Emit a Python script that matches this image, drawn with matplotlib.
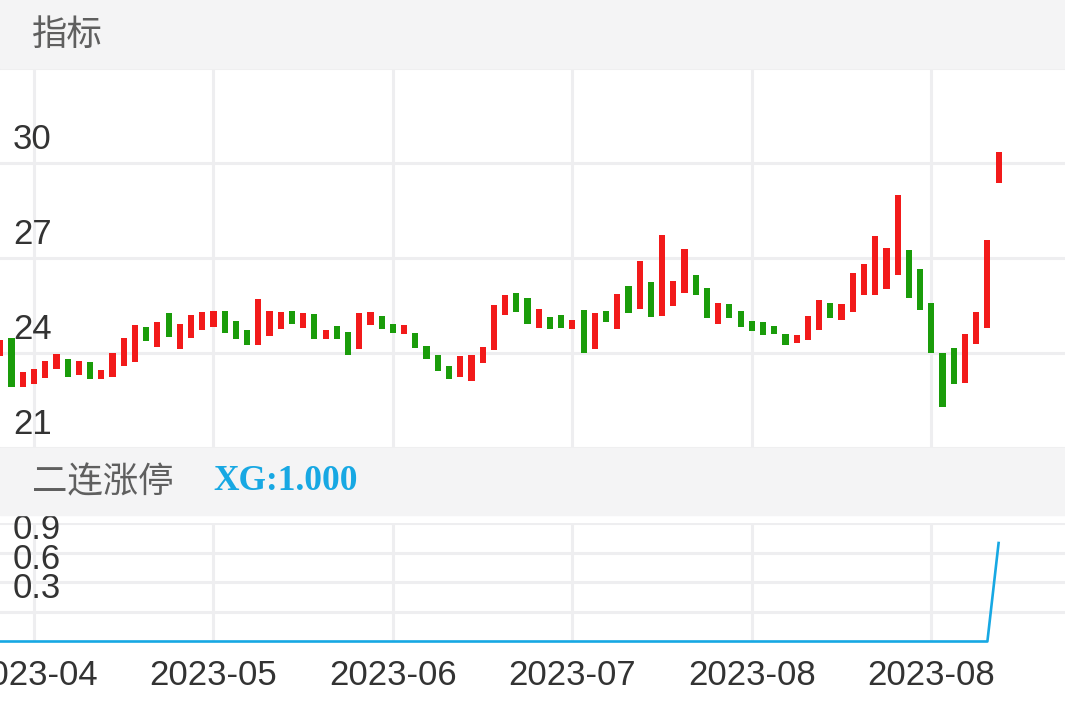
import numpy as np
import matplotlib
matplotlib.use("Agg")
import matplotlib.pyplot as plt
from matplotlib.patches import Rectangle

# 日K数据 (开盘, 收盘)，共90根
opens = [23.92, 24.47, 22.95, 23.03, 23.21, 23.49, 23.82, 23.31, 23.72, 23.18,
         23.26, 23.61, 23.73, 24.82, 24.21, 25.28, 24.15, 24.47, 24.73, 24.82,
         25.34, 25.02, 24.73, 24.27, 24.56, 24.76, 25.34, 24.79, 25.23, 24.44,
         24.86, 24.67, 24.13, 24.88, 25.18, 24.92, 24.62, 24.65, 24.24, 23.96,
         23.61, 23.25, 23.13, 23.68, 24.09, 25.22, 25.91, 25.74, 24.81, 25.16,
         25.20, 24.78, 25.37, 24.14, 25.34, 24.76, 26.12, 25.39, 26.24, 25.18,
         25.50, 25.91, 26.47, 26.06, 24.93, 25.56, 25.33, 25.02, 24.98, 24.86,
         24.60, 24.32, 24.41, 24.73, 25.59, 25.06, 25.29, 25.85, 25.83, 26.03,
         26.48, 27.25, 26.66, 25.59, 24.02, 24.16, 23.06, 24.28, 24.81, 29.37]
closes = [24.42, 22.95, 23.42, 23.51, 23.77, 23.98, 23.24, 23.77, 23.18, 23.47,
          24.00, 24.47, 24.89, 24.40, 24.98, 24.52, 24.91, 25.21, 25.29, 25.33,
          24.65, 24.45, 24.26, 25.72, 25.34, 25.30, 24.93, 25.28, 24.46, 24.74,
          24.46, 23.95, 25.26, 25.31, 24.78, 24.65, 24.88, 24.18, 23.81, 23.45,
          23.19, 23.90, 23.95, 24.21, 25.53, 25.84, 25.30, 24.93, 25.39, 24.78,
          24.81, 25.05, 24.00, 25.27, 24.98, 25.87, 25.28, 26.90, 25.15, 27.74,
          26.29, 27.28, 25.85, 25.10, 25.58, 25.12, 24.82, 24.70, 24.59, 24.62,
          24.26, 24.58, 25.18, 25.69, 25.11, 25.55, 26.54, 26.82, 27.69, 27.32,
          29.00, 25.74, 25.36, 24.01, 22.30, 23.04, 24.62, 25.30, 27.59, 30.36]

# 二连涨停 指标
xg = [0.0] * 89 + [1.0]

tick_labels = ["2023-04", "2023-05", "2023-06", "2023-07", "2023-08", "2023-08"]
price_ticks = [21, 24, 27, 30]
xg_ticks = [0.3, 0.6, 0.9]

W, H = 1065, 708
red = "#f21a1a"
green = "#1a9c0a"
grid_c = "#eeeef0"
band_c = "#f4f4f5"
txt_c = "#333333"

plt.rcParams["font.family"] = ["Liberation Sans", "Noto Sans CJK SC", "DejaVu Sans"]

fig = plt.figure(figsize=(W / 100, H / 100), dpi=100)
fig.patch.set_facecolor("white")


def fy(y):
    return 1 - y / H


# header bands
fig.patches.append(Rectangle((0, fy(68.3)), 1, 68.3 / H, transform=fig.transFigure,
                             color=band_c, zorder=0))
fig.patches.append(Rectangle((0, fy(515)), 1, (515 - 448.3) / H, transform=fig.transFigure,
                             color=band_c, zorder=0))

x = np.arange(len(opens))
xticks = np.arange(3, len(opens), 16)
xlim = (-0.031, 94.92)

# ---- 上方 K线
ax = fig.add_axes([0, fy(448.3), 1, 380 / H])
ax.set_xlim(*xlim)
ax.set_ylim(21, 33)
o = np.array(opens)
c = np.array(closes)
cols = [red if cc >= oo else green for oo, cc in zip(o, c)]
ax.bar(x, np.abs(c - o), bottom=np.minimum(o, c), width=0.55, color=cols, zorder=3)
for v in [21, 24, 27, 30, 33]:
    ax.axhline(v, color=grid_c, lw=2.2, zorder=1)
for t in xticks:
    ax.axvline(t, color=grid_c, lw=2.2, zorder=1)
for v in price_ticks:
    ax.annotate(str(v), xy=(0.012, v), xycoords=("axes fraction", "data"),
                xytext=(0, 17.3), textcoords="offset points", va="center", ha="left",
                fontsize=25, color=txt_c)
ax.set_xticks([])
ax.set_yticks([])
for s in ax.spines.values():
    s.set_visible(False)
ax.patch.set_alpha(0)

# ---- 下方 指标
ax2 = fig.add_axes([0, fy(641.5), 1, 118.2 / H])
ax2.set_xlim(*xlim)
ax2.set_ylim(0, 1.2)
for v in [0.3, 0.6, 0.9, 1.2]:
    ax2.axhline(v, color=grid_c, lw=2.2, zorder=1)
for t in xticks:
    ax2.axvline(t, color=grid_c, lw=2.2, zorder=1)
ax2.plot(x, xg, color="#17a8e3", lw=1.9, zorder=3, clip_on=False)
for v in xg_ticks:
    ax2.annotate(f"{v:.1f}", xy=(0.012, v), xycoords=("axes fraction", "data"),
                 xytext=(0, 16.8), textcoords="offset points", va="center", ha="left",
                 fontsize=25, color=txt_c)
for t, lab in zip(xticks, tick_labels):
    ax2.annotate(lab, xy=(t, 0), xycoords=("data", "axes fraction"),
                 xytext=(0, -24.5), textcoords="offset points", va="center", ha="center",
                 fontsize=25, color=txt_c)
ax2.set_xticks([])
ax2.set_yticks([])
for s in ax2.spines.values():
    s.set_visible(False)
ax2.patch.set_alpha(0)

# header texts
fig.text(32 / W, fy(35), "指标", family=["Noto Sans CJK SC", "DejaVu Sans"],
         fontsize=25.5, color="#5f5f5f", va="center", ha="left")
fig.text(32 / W, fy(482), "二连涨停", family=["Noto Sans CJK SC", "DejaVu Sans"],
         fontsize=25.5, color="#5f5f5f", va="center", ha="left")
fig.text(213 / W, fy(482), "XG:1.000", family=["Liberation Serif"], fontweight="bold",
         fontsize=25.5, color="#17a8e3", va="center", ha="left")

fig.savefig("out.png", dpi=100)
